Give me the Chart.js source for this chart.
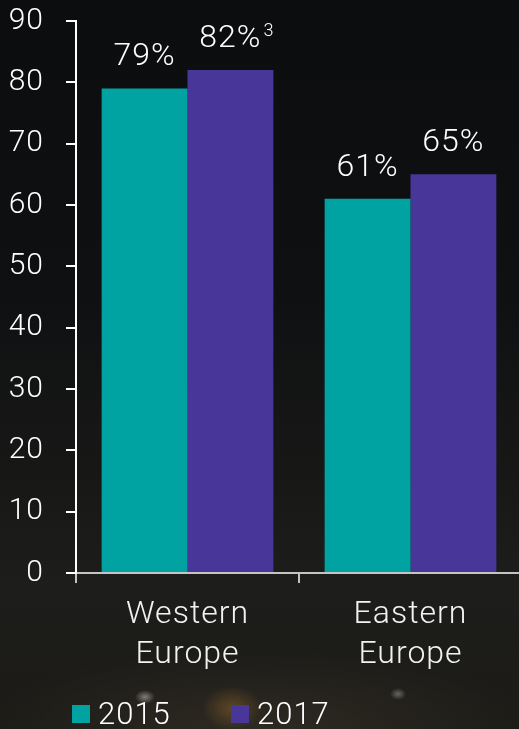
<!DOCTYPE html>
<html>
<head>
<meta charset="utf-8">
<script src="https://cdn.jsdelivr.net/npm/chart.js@4"></script>
<style>
  html, body {
    margin: 0;
    padding: 0;
    width: 519px;
    height: 729px;
    overflow: hidden;
  }
  body {
    background:
      radial-gradient(ellipse 10px 7px at 145px 697px, rgba(240,235,220,0.45), transparent),
      radial-gradient(ellipse 30px 22px at 232px 708px, rgba(190,130,50,0.35), transparent),
      radial-gradient(ellipse 8px 6px at 398px 694px, rgba(230,230,220,0.35), transparent),
      radial-gradient(ellipse 280px 80px at 260px 729px, rgba(80,70,55,0.35), transparent),
      linear-gradient(to bottom, #0c0d0f 0%, #0f1012 40%, #171816 65%, #1d1d1b 80%, #1c1b17 100%);
  }
  canvas { position: absolute; left: 0; top: 0; }
</style>
</head>
<body>
<canvas id="chart" width="530" height="729" style="width:530px;height:729px"></canvas>
<script>
const categories = [['Western', 'Europe'], ['Eastern', 'Europe']];
const seriesNames = ['2015', '2017'];
const values2015 = [79, 61];
const values2017 = [82, 65];
const notes2015 = ['', ''];
const notes2017 = ['3', ''];
const yTicks = { min: 0, max: 90, step: 10 };

const teal = '#00a3a1';
const purple = '#483698';
const fontFamily = 'Roboto, "Liberation Sans", sans-serif';

// slightly wider text, closer to the original typeface
const spacing = {
  id: 'spacing',
  beforeDraw(chart) { chart.ctx.letterSpacing = '1px'; }
};

// value labels above bars, with footnote superscripts
const valueLabels = {
  id: 'valueLabels',
  afterDatasetsDraw(chart) {
    const ctx = chart.ctx;
    ctx.save();
    ctx.fillStyle = '#ffffff';
    ctx.textBaseline = 'middle';
    chart.data.datasets.forEach((ds, i) => {
      const meta = chart.getDatasetMeta(i);
      meta.data.forEach((bar, j) => {
        const txt = ds.data[j] + '%';
        ctx.font = '300 32px ' + fontFamily;
        ctx.textAlign = 'center';
        const y = bar.y - 31;
        ctx.fillText(txt, bar.x, y);
        const note = ds.notes[j];
        if (note) {
          const w = ctx.measureText(txt).width;
          ctx.font = '300 18px ' + fontFamily;
          ctx.textAlign = 'left';
          ctx.fillText(note, bar.x + w / 2 + 2, y - 8);
        }
      });
    });
    ctx.restore();
  }
};

// legend row along the bottom
const bottomLegend = {
  id: 'bottomLegend',
  afterDraw(chart) {
    const ctx = chart.ctx;
    const startX = [72, 231];
    ctx.save();
    ctx.font = '300 31px ' + fontFamily;
    ctx.textBaseline = 'alphabetic';
    ctx.textAlign = 'left';
    chart.data.datasets.forEach((ds, i) => {
      ctx.fillStyle = ds.backgroundColor;
      ctx.fillRect(startX[i], 705, 18, 18);
      ctx.fillStyle = '#ffffff';
      ctx.fillText(ds.label, startX[i] + 26, 724);
    });
    ctx.restore();
  }
};

new Chart(document.getElementById('chart'), {
  type: 'bar',
  data: {
    labels: categories,
    datasets: [
      { label: seriesNames[0], data: values2015, notes: notes2015, backgroundColor: teal },
      { label: seriesNames[1], data: values2017, notes: notes2017, backgroundColor: purple }
    ]
  },
  options: {
    responsive: false,
    animation: false,
    layout: { padding: { left: 0, right: 8, top: 21, bottom: 0 } },
    datasets: {
      bar: { categoryPercentage: 0.77, barPercentage: 1 }
    },
    plugins: {
      legend: { display: false },
      tooltip: { enabled: false }
    },
    scales: {
      x: {
        afterFit(scale) { scale.height = 156; },
        grid: {
          drawOnChartArea: false,
          drawTicks: true,
          tickLength: 10,
          color: '#c4c4c4',
          lineWidth: 2
        },
        border: { color: '#c4c4c4', width: 2 },
        ticks: {
          color: '#f2f2f2',
          padding: 12,
          font: { family: fontFamily, size: 32, weight: 300, lineHeight: 1.25 }
        }
      },
      y: {
        min: yTicks.min,
        max: yTicks.max,
        afterFit(scale) {
          scale.width = 76;
          scale.paddingTop = 0;
          scale.paddingBottom = 0;
        },
        grid: {
          drawOnChartArea: false,
          drawTicks: true,
          tickLength: 10,
          color: '#ffffff',
          lineWidth: 2
        },
        border: { color: '#ffffff', width: 2 },
        ticks: {
          stepSize: yTicks.step,
          color: '#ffffff',
          padding: 22,
          font: { family: fontFamily, size: 30, weight: 300 }
        }
      }
    }
  },
  plugins: [spacing, valueLabels, bottomLegend]
});
</script>
</body>
</html>
